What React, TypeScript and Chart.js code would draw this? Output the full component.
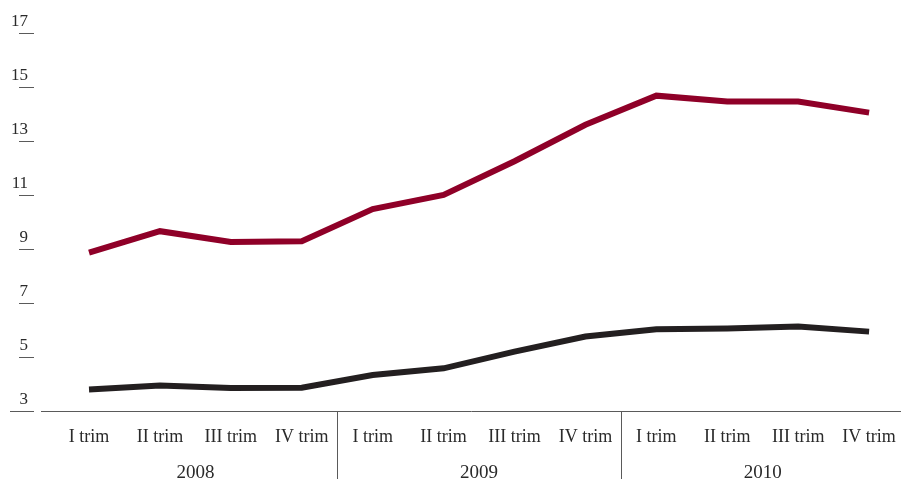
import { useEffect, useRef } from "react";
import { Chart, registerables } from "chart.js";

Chart.register(...registerables);

const QUARTERS = [
  "I trim", "II trim", "III trim", "IV trim",
  "I trim", "II trim", "III trim", "IV trim",
  "I trim", "II trim", "III trim", "IV trim",
];
const YEARS = ["2008", "2009", "2010"];
const SERIES_RED = [8.87, 9.66, 9.26, 9.29, 10.48, 11.0, 12.25, 13.6, 14.68, 14.46, 14.46, 14.05];
const SERIES_BLACK = [3.8, 3.94, 3.85, 3.86, 4.33, 4.58, 5.2, 5.76, 6.03, 6.06, 6.13, 5.94];
const Y_TICKS = [3, 5, 7, 9, 11, 13, 15, 17];

const FONT = '"Liberation Serif", "DejaVu Serif", serif';
const TEXT = "#2a2a2a";
const AXIS = "#5a5a5a";

export default function App() {
  const ref = useRef<HTMLCanvasElement>(null);

  useEffect(() => {
    if (!ref.current) return;

    const decor = {
      id: "decor",
      afterDraw(chart: any) {
        const { ctx, chartArea } = chart;
        const x = chart.scales.x;
        const y = chart.scales.y;
        ctx.save();
        ctx.strokeStyle = AXIS;
        ctx.lineWidth = 1;
        Y_TICKS.forEach((v, i) => {
          const py = Math.round(y.getPixelForValue(v)) + 0.5;
          ctx.beginPath();
          ctx.moveTo(i === 0 ? 10 : 19, py);
          ctx.lineTo(34, py);
          ctx.stroke();
        });
        for (let g = 1; g < YEARS.length; g++) {
          const px = Math.round(x.getPixelForValue(g * 4 - 0.5)) + 0.5;
          ctx.beginPath();
          ctx.moveTo(px, chartArea.bottom);
          ctx.lineTo(px, chartArea.bottom + 68);
          ctx.stroke();
        }
        ctx.font = `19px ${FONT}`;
        ctx.fillStyle = TEXT;
        ctx.textAlign = "center";
        ctx.textBaseline = "middle";
        YEARS.forEach((yr, g) => {
          ctx.fillText(yr, x.getPixelForValue(g * 4 + 1.5), chartArea.bottom + 62);
        });
        ctx.restore();
      },
    };

    const chart = new Chart(ref.current, {
      type: "line",
      data: {
        datasets: [
          {
            data: SERIES_RED.map((v, i) => ({ x: i, y: v })),
            borderColor: "#8f0028",
            borderWidth: 6,
            pointRadius: 0,
            tension: 0,
            fill: false,
          },
          {
            data: SERIES_BLACK.map((v, i) => ({ x: i, y: v })),
            borderColor: "#231f20",
            borderWidth: 6,
            pointRadius: 0,
            tension: 0,
            fill: false,
          },
        ],
      },
      options: {
        animation: false,
        responsive: false,
        layout: { padding: { top: 33, left: 0, right: 0, bottom: 0 } },
        plugins: { legend: { display: false }, tooltip: { enabled: false } },
        scales: {
          x: {
            type: "linear",
            min: -0.677,
            max: 11.45,
            afterBuildTicks: (scale: any) => {
              scale.ticks = QUARTERS.map((_, i) => ({ value: i }));
            },
            afterFit: (scale: any) => {
              scale.height = 73;
              scale.paddingLeft = 0;
              scale.paddingRight = 0;
            },
            grid: { display: false, drawTicks: false },
            border: { display: true, color: AXIS, width: 1 },
            ticks: {
              autoSkip: false,
              maxRotation: 0,
              padding: 15,
              color: TEXT,
              font: { family: FONT, size: 18 },
              callback: (v: any) => QUARTERS[v as number] ?? "",
            },
          },
          y: {
            min: 3,
            max: 17,
            afterBuildTicks: (scale: any) => {
              scale.ticks = Y_TICKS.map((v) => ({ value: v }));
            },
            afterFit: (scale: any) => {
              scale.width = 41;
            },
            grid: { display: false, drawTicks: false },
            border: { display: false },
            ticks: {
              padding: 13,
              labelOffset: -11,
              color: TEXT,
              font: { family: FONT, size: 17 },
            },
          },
        },
      },
      plugins: [decor],
    });

    return () => chart.destroy();
  }, []);

  return (
    <div style={{ position: "fixed", left: 0, top: 0, width: 901, height: 484, background: "#fff" }}>
      <canvas ref={ref} width={901} height={484} style={{ display: "block" }} />
    </div>
  );
}
